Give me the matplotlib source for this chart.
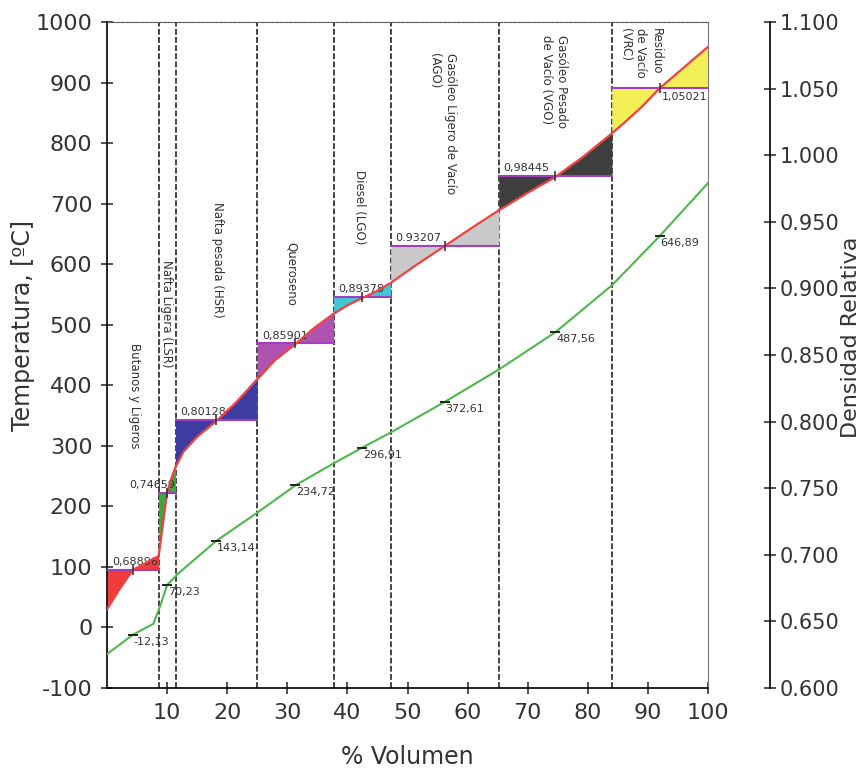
import matplotlib
matplotlib.use("Agg")
import matplotlib.pyplot as plt

plt.rcParams['font.family'] = ['DejaVu Sans']
plt.rcParams['axes.unicode_minus'] = False

# cut boundaries (% volume) and names
cut_edges = [0, 8.6, 11.4, 25.0, 37.7, 47.2, 65.2, 84.0, 100]
cut_names = ["Butanos y Ligeros", "Nafta Ligera (LSR)", "Nafta pesada (HSR)", "Queroseno",
             "Diesel (LGO)", "Gasóleo Ligero de Vacío\n(AGO)", "Gasóleo Pesado\nde Vacío (VGO)",
             "Residuo\nde Vacío\n(VRC)"]
cut_colors = ["#f23c3c", "#3aa83a", "#3c3ca2", "#b052b0", "#44c4d2", "#c9c9c9", "#3e3e3e", "#f2f056"]

# relative density of each cut, and mid-volume temperature
cut_density = [0.68896, 0.74659, 0.80128, 0.85901, 0.89378, 0.93207, 0.98445, 1.05021]
dens_labels = ["0,68896", "0,74659", "0,80128", "0,85901", "0,89378", "0.93207", "0,98445", "1,05021"]
mid_temp = [-12.13, 70.23, 143.14, 234.72, 296.91, 372.61, 487.56, 646.89]
temp_labels = ["-12,13", "70,23", "143,14", "234,72", "296,91", "372,61", "487,56", "646,89"]

# TBP-like curve (red)
red_vol = [0, 2, 4.3, 6.5, 8.6, 9.4, 10.0, 10.7, 11.4, 12.7, 15, 18.2, 21.5, 25, 28, 31.35,
           34.5, 37.7, 40, 42.45, 45, 47.2, 51.5, 56.2, 60.7, 65.2, 70, 74.6, 79.3, 84,
           86, 89, 92, 96, 100]
red_temp = [30, 62, 95, 107, 118, 178, 222, 246, 265, 290, 315, 341, 372, 410, 442, 468,
            495, 518, 532, 544, 556, 569, 599, 630, 660, 689, 718, 744, 778, 816,
            833, 860, 891, 925, 959]

# mid-boiling curve (green)
green_vol = [0, 4.3, 7.7, 8.8, 10.0, 11.9, 18.2, 25.2, 31.35, 37.7, 42.45, 47.2, 56.2,
             65.2, 74.6, 84, 92, 100]
green_temp = [-44, -12.13, 6, 34, 70.23, 89.5, 143.14, 191, 234.72, 271, 296.91, 322,
              372.61, 426, 487.56, 565, 646.89, 734]

# where the cut names sit (x, top y in deg C)
name_pos = [(4.6, 470), (9.9, 607), (18.4, 703), (30.7, 637), (42.0, 756), (55.8, 949),
            (74.4, 979), (88.8, 990)]


def dens_to_temp(d):
    return -100 + (d - 0.6) * 1100 / 0.5


fig = plt.figure(figsize=(8.66, 7.69), dpi=100)
ax = fig.add_axes([107 / 866, 1 - 688 / 769, 601 / 866, 666 / 769])
ax.set_xlim(0, 100)
ax.set_ylim(-100, 1000)

txt = "#333333"
for i in range(len(cut_names)):
    lo, hi = cut_edges[i], cut_edges[i + 1]
    mid = (lo + hi) / 2
    yd = dens_to_temp(cut_density[i])
    xs = [v for v in red_vol if lo <= v <= hi]
    ys = [t for v, t in zip(red_vol, red_temp) if lo <= v <= hi]
    ax.fill_between(xs, ys, yd, color=cut_colors[i], lw=0, zorder=2)
    ax.plot([lo, hi], [yd, yd], color="#a040c0", lw=1.5, zorder=3)
    ax.plot([mid], [yd], marker="|", ms=7, mew=1.2, color="#333355", zorder=5)
    # density label
    if i == 1:
        ax.text(hi, yd + 4, dens_labels[i], ha="right", va="bottom", fontsize=8, color=txt)
    elif i == 7:
        ax.text(mid + 0.4, yd - 6, dens_labels[i], ha="left", va="top", fontsize=8, color=txt)
    else:
        ax.text(lo + 0.8, yd + 4, dens_labels[i], ha="left", va="bottom", fontsize=8, color=txt)
    # green mid temperature marks
    ax.plot([mid], [mid_temp[i]], marker="_", ms=7, mew=1.4, color="#222222", zorder=5)
    ax.text(mid + 0.1, mid_temp[i] - 3, temp_labels[i], ha="left", va="top", fontsize=8, color=txt)
    # cut name
    nx, ny = name_pos[i]
    ax.text(nx, ny, cut_names[i], rotation=270, ha="center", va="top",
            multialignment="left", fontsize=8.5, color=txt, linespacing=1.25)

for e in cut_edges[1:-1]:
    ax.axvline(e, color="#444444", lw=1.4, ls=(0, (3, 1.2)), zorder=1)

ax.plot(red_vol, red_temp, color="#f04040", lw=1.6, zorder=4)
ax.plot(green_vol, green_temp, color="#4cb84c", lw=1.5, zorder=4)

ax.set_xticks(range(10, 101, 10))
ax.set_yticks(range(-100, 1001, 100))
ax.tick_params(axis="both", direction="inout", length=9, width=1.2, labelsize=16,
               labelcolor=txt, color="#333333", pad=6)
ax.tick_params(axis="y", right=False)
ax.tick_params(axis="x", top=False)
ax.spines["top"].set_linestyle((0, (3, 1.2)))
ax.spines["top"].set_color("#555555")
ax.spines["right"].set_color("#777777")
ax.spines["left"].set_linewidth(1.2)
ax.spines["bottom"].set_linewidth(1.2)

ax.set_xlabel("% Volumen", fontsize=17, color=txt)
ax.xaxis.set_label_coords(0.5, -0.085)
ax.set_ylabel("Temperatura, [ºC]", fontsize=17, color=txt)
ax.yaxis.set_label_coords(-0.12, 0.545)

ax2 = ax.twinx()
ax2.set_ylim(0.6, 1.1)
ax2.spines["right"].set_position(("outward", 62 * 72 / 100))
for s in ["top", "left", "bottom"]:
    ax2.spines[s].set_visible(False)
ax2.spines["right"].set_linewidth(1.2)
ax2.set_yticks([0.6 + 0.05 * k for k in range(11)])
ax2.set_yticklabels([f"{0.6 + 0.05 * k:.3f}" for k in range(11)])
ax2.tick_params(axis="y", direction="inout", length=8, width=1.2, labelsize=15,
                labelcolor=txt, color="#333333", pad=3)
ax2.set_ylabel("Densidad Relativa", fontsize=16, color=txt)
ax2.yaxis.set_label_coords(1.222, 0.527)

fig.savefig("out.png", dpi=100)
